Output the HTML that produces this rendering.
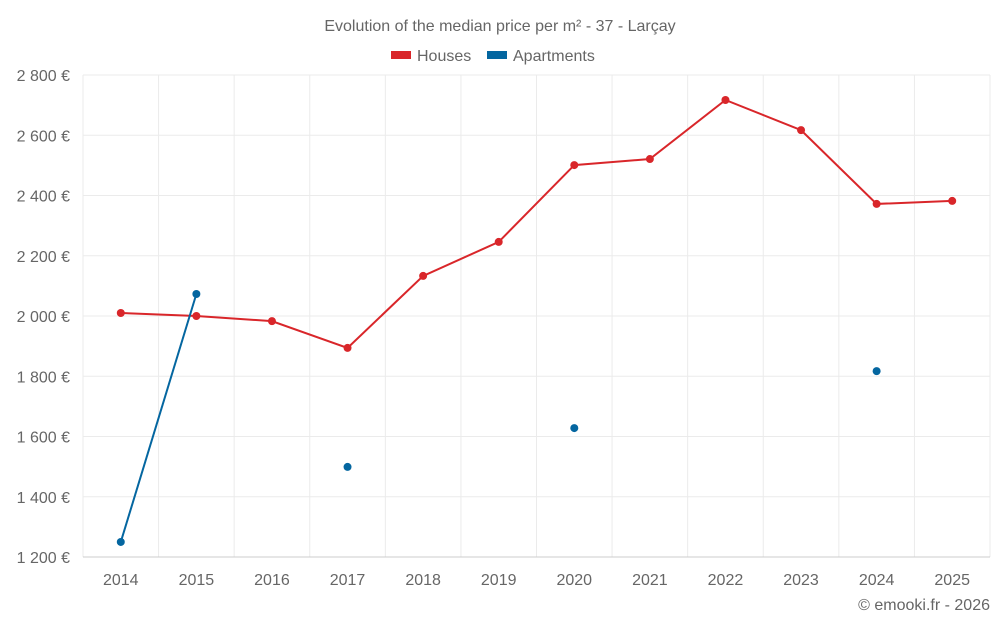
<!DOCTYPE html>
<html><head><meta charset="utf-8"><style>
body{margin:0;background:#fff;font-family:"Liberation Sans",sans-serif}
svg text{font-family:"Liberation Sans",sans-serif;fill:#666}
</style></head><body>
<svg id="c" width="1000" height="625">
<text x="500" y="31" text-anchor="middle" font-size="16">Evolution of the median price per m² - 37 - Larçay</text>
<g>
<rect x="391" y="51" width="20" height="8" fill="#d9262a"/>
<text x="417" y="61" font-size="16">Houses</text>
<rect x="487" y="51" width="20" height="8" fill="#0466a0"/>
<text x="513" y="61" font-size="16">Apartments</text>
</g>
<g id="grid"></g><g id="axes"></g><g id="series"></g>
<text x="990" y="610" text-anchor="end" font-size="16">© emooki.fr - 2026</text>
</svg>
<script>
const years=[2014,2015,2016,2017,2018,2019,2020,2021,2022,2023,2024,2025];
const houses=[2010,2000,1983,1894,2133,2246,2501,2521,2717,2617,2372,2382];
const apartments=[1250,2073,null,1499,null,null,1628,null,null,null,1817,null];
const yTicks=[1200,1400,1600,1800,2000,2200,2400,2600,2800];
const yLabels=["1 200 €","1 400 €","1 600 €","1 800 €","2 000 €","2 200 €","2 400 €","2 600 €","2 800 €"];
const L=83,R=990,T=75,B=557,ymin=1200,ymax=2800;
const bw=(R-L)/years.length;
const x=i=>L+bw*(i+0.5);
const y=v=>B-(v-ymin)/(ymax-ymin)*(B-T);
const NS="http://www.w3.org/2000/svg";
function mk(tag,attrs,parent){const e=document.createElementNS(NS,tag);for(const k in attrs)e.setAttribute(k,attrs[k]);document.getElementById(parent).appendChild(e);return e;}
yTicks.forEach((t,i)=>{
 const g=mk('line',{x1:L,x2:R,y1:y(t),y2:y(t),stroke:'#ebebeb'},'grid');
 
 
 const tx=mk('text',{x:L-13,y:y(t)+6,'text-anchor':'end','font-size':16},'axes');
 tx.textContent=yLabels[i];
 
 
});
for(let i=0;i<=years.length;i++){
 const g=mk('line',{x1:L+bw*i,x2:L+bw*i,y1:T,y2:B,stroke:'#ebebeb'},'grid');
 
 
}
years.forEach((yr,i)=>{
 const tx=mk('text',{x:x(i),y:B+28,'text-anchor':'middle','font-size':16},'axes');
 tx.textContent=yr;
 
 
});
const ax=mk('line',{x1:L,x2:R,y1:B,y2:B,stroke:'#ccc'},'axes');


function draw(vals,color,name){
 let seg=[];const segs=[];
 vals.forEach((v,i)=>{if(v==null){if(seg.length)segs.push(seg);seg=[];}else seg.push(x(i)+','+y(v));});
 if(seg.length)segs.push(seg);
 segs.forEach(s=>{if(s.length>1){const p=mk('polyline',{points:s.join(' '),fill:'none',stroke:color,'stroke-width':2},'series');
  
  }});
 vals.forEach((v,i)=>{if(v==null)return;const c=mk('circle',{cx:x(i),cy:y(v),r:4,fill:color},'series');
  
  });
}
draw(houses,'#d9262a','houses');
draw(apartments,'#0466a0','apartments');
</script>
</body></html>
